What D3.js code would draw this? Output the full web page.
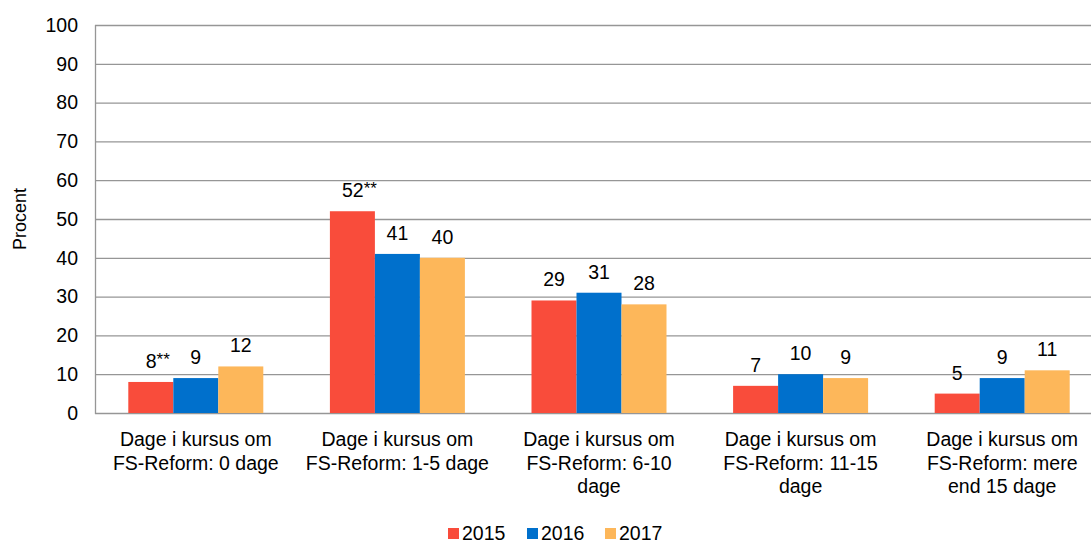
<!DOCTYPE html>
<meta charset="utf-8">
<head>
<style>
  body { margin: 0; background: #fff; }
  text { font-family: "Liberation Sans", Arial, sans-serif; fill: #000; }
</style>
</head>
<body>
<script src="https://d3js.org/d3.v7.min.js"></script>
<script>
var categories = [
  ["Dage i kursus om", "FS-Reform: 0 dage"],
  ["Dage i kursus om", "FS-Reform: 1-5 dage"],
  ["Dage i kursus om", "FS-Reform: 6-10", "dage"],
  ["Dage i kursus om", "FS-Reform: 11-15", "dage"],
  ["Dage i kursus om", "FS-Reform: mere", "end 15 dage"]
];
var years = ["2015", "2016", "2017"];
var values2015 = [8, 52, 29, 7, 5];
var values2016 = [9, 41, 31, 10, 9];
var values2017 = [12, 40, 28, 9, 11];
var marks2015 = ["**", "**", "", "", ""];
var yTicks = [0, 10, 20, 30, 40, 50, 60, 70, 80, 90, 100];
var colors = ["#F94C3B", "#0070CC", "#FDB75A"];

var w = 1091, h = 544;
var mLeft = 95, mRight = 1103, mTop = 25, mBottom = 413;
var fs = "19.5px";

var svg = d3.select("body").append("svg").attr("width", w).attr("height", h);

var y = d3.scaleLinear().domain([0, 100]).range([mBottom, mTop]);
var x0 = d3.scaleBand().domain(d3.range(categories.length)).range([mLeft, mRight]);
var gw = 135;
var x1 = d3.scaleBand().domain(years)
  .range([(x0.bandwidth() - gw) / 2, (x0.bandwidth() + gw) / 2]);

// gridlines
svg.append("g").selectAll("line").data(yTicks).enter().append("line")
  .attr("x1", mLeft).attr("x2", w)
  .attr("y1", function(d) { return y(d) + 0.5; })
  .attr("y2", function(d) { return y(d) + 0.5; })
  .attr("stroke", "#969696").attr("stroke-width", 1.3);

// y axis
var yAxis = d3.axisLeft(y).tickValues(yTicks).tickSize(0).tickPadding(17);
var ga = svg.append("g").attr("transform", "translate(" + mLeft + ",0)").call(yAxis);
ga.select(".domain").remove();
ga.selectAll("text").style("font-size", fs).style("font-family", "Liberation Sans, Arial, sans-serif");
svg.append("line").attr("x1", mLeft + 0.5).attr("x2", mLeft + 0.5).attr("y1", mTop).attr("y2", mBottom + 1)
  .attr("stroke", "#969696").attr("stroke-width", 1.3);

svg.append("text").attr("transform", "translate(26," + ((mTop + mBottom) / 2) + ") rotate(-90)")
  .attr("text-anchor", "middle").style("font-size", "18px").text("Procent");

var series = [values2015, values2016, values2017];
var rows = [];
series.forEach(function(vals, s) {
  vals.forEach(function(v, i) {
    rows.push({ s: s, i: i, v: v, mark: s === 0 ? marks2015[i] : "" });
  });
});

svg.append("g").selectAll("rect").data(rows).enter().append("rect")
  .attr("x", function(d) { return x0(d.i) + x1(years[d.s]); })
  .attr("y", function(d) { return y(d.v); })
  .attr("width", x1.bandwidth())
  .attr("height", function(d) { return y(0) - y(d.v); })
  .attr("fill", function(d) { return colors[d.s]; });

var lbl = svg.append("g").selectAll("text").data(rows).enter().append("text")
  .attr("x", function(d) { return x0(d.i) + x1(years[d.s]) + x1.bandwidth() / 2 + (d.mark ? 7 : 0); })
  .attr("y", function(d) { return y(d.v) - 14; })
  .attr("text-anchor", "middle").style("font-size", fs);
lbl.append("tspan").text(function(d) { return d.v; });
lbl.filter(function(d) { return d.mark; }).append("tspan")
  .attr("dy", -3).style("font-size", "17px").text(function(d) { return d.mark; });

// category labels
var cl = svg.append("g").selectAll("text").data(categories).enter().append("text")
  .attr("text-anchor", "middle").style("font-size", fs)
  .attr("x", function(d, i) { return x0(i) + x0.bandwidth() / 2; })
  .attr("y", 446);
cl.selectAll("tspan").data(function(d) { return d; }).enter().append("tspan")
  .attr("x", function() { return d3.select(this.parentNode).attr("x"); })
  .attr("dy", function(d, j) { return j === 0 ? 0 : 23.5; })
  .text(function(d) { return d; });

// legend
var legX = [448, 527, 605];
var lg = svg.append("g").selectAll("g").data(years).enter().append("g")
  .attr("transform", function(d, i) { return "translate(" + legX[i] + ",528)"; });
lg.append("rect").attr("width", 11).attr("height", 11).attr("fill", function(d, i) { return colors[i]; });
lg.append("text").attr("x", 14).attr("y", 12).style("font-size", fs).text(function(d) { return d; });
</script>
</body>
